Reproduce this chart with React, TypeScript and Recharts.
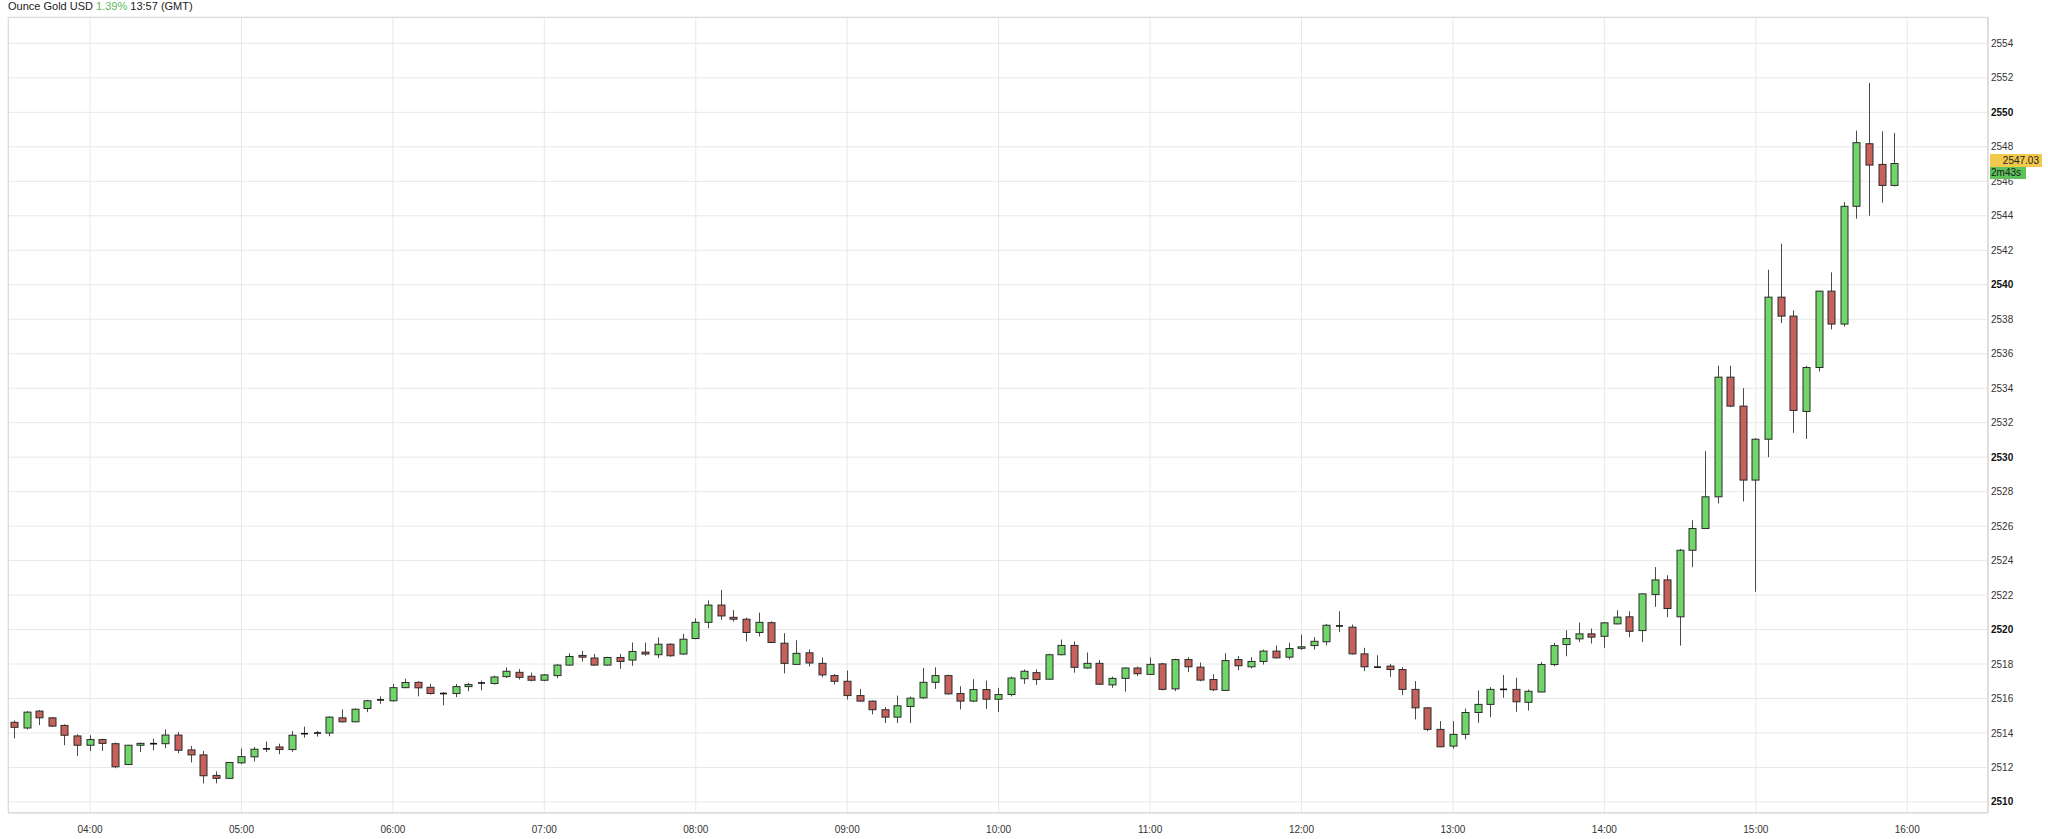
import React from "react";
import { Bar, CartesianGrid, ComposedChart, XAxis, YAxis } from "recharts";

// 5-minute candles, GMT
const TIMES = [
  "03:30", "03:35", "03:40", "03:45", "03:50", "03:55",
  "04:00", "04:05", "04:10", "04:15", "04:20", "04:25", "04:30", "04:35", "04:40", "04:45", "04:50", "04:55",
  "05:00", "05:05", "05:10", "05:15", "05:20", "05:25", "05:30", "05:35", "05:40", "05:45", "05:50", "05:55",
  "06:00", "06:05", "06:10", "06:15", "06:20", "06:25", "06:30", "06:35", "06:40", "06:45", "06:50", "06:55",
  "07:00", "07:05", "07:10", "07:15", "07:20", "07:25", "07:30", "07:35", "07:40", "07:45", "07:50", "07:55",
  "08:00", "08:05", "08:10", "08:15", "08:20", "08:25", "08:30", "08:35", "08:40", "08:45", "08:50", "08:55",
  "09:00", "09:05", "09:10", "09:15", "09:20", "09:25", "09:30", "09:35", "09:40", "09:45", "09:50", "09:55",
  "10:00", "10:05", "10:10", "10:15", "10:20", "10:25", "10:30", "10:35", "10:40", "10:45", "10:50", "10:55",
  "11:00", "11:05", "11:10", "11:15", "11:20", "11:25", "11:30", "11:35", "11:40", "11:45", "11:50", "11:55",
  "12:00", "12:05", "12:10", "12:15", "12:20", "12:25", "12:30", "12:35", "12:40", "12:45", "12:50", "12:55",
  "13:00", "13:05", "13:10", "13:15", "13:20", "13:25", "13:30", "13:35", "13:40", "13:45", "13:50", "13:55",
  "14:00", "14:05", "14:10", "14:15", "14:20", "14:25", "14:30", "14:35", "14:40", "14:45", "14:50", "14:55",
  "15:00", "15:05", "15:10", "15:15", "15:20", "15:25", "15:30", "15:35", "15:40", "15:45", "15:50", "15:55",
];

const OPEN = [
  2514.62, 2514.29, 2515.27, 2514.88, 2514.44, 2513.83,
  2513.29, 2513.62, 2513.38, 2512.17, 2513.29, 2513.36, 2513.38, 2513.88, 2513.02, 2512.73, 2511.54, 2511.37,
  2512.27, 2512.62, 2513.07, 2513.19, 2513.04, 2513.95, 2514.0, 2514.0, 2514.88, 2514.65, 2515.42, 2515.92,
  2515.87, 2516.63, 2516.94, 2516.65, 2516.29, 2516.29, 2516.69, 2516.9, 2516.87, 2517.27, 2517.52, 2517.29,
  2517.06, 2517.33, 2517.94, 2518.5, 2518.35, 2517.94, 2518.38, 2518.23, 2518.69, 2518.54, 2519.15, 2518.58,
  2519.48, 2520.42, 2521.42, 2520.71, 2520.6, 2519.83, 2520.4, 2519.21, 2517.98, 2518.65, 2518.04, 2517.33,
  2517.0, 2516.17, 2515.85, 2515.35, 2514.92, 2515.54, 2516.04, 2516.94, 2517.33, 2516.29, 2515.85, 2516.52,
  2515.96, 2516.23, 2517.15, 2517.5, 2517.12, 2518.54, 2519.08, 2517.77, 2518.04, 2516.79, 2517.17, 2517.77,
  2517.4, 2518.01, 2516.56, 2518.26, 2517.82, 2517.1, 2516.47, 2518.26, 2517.84, 2518.15, 2518.75, 2518.4,
  2518.96, 2519.07, 2519.29, 2520.21, 2520.14, 2518.59, 2517.82, 2517.88, 2517.68, 2516.53, 2515.46, 2514.21,
  2513.24, 2513.92, 2515.19, 2515.66, 2516.53, 2516.53, 2515.78, 2516.38, 2517.97, 2519.13, 2519.46, 2519.75,
  2519.61, 2520.33, 2520.74, 2519.94, 2522.03, 2522.88, 2520.74, 2524.6, 2525.86, 2527.7, 2534.64, 2532.96,
  2528.67, 2531.04, 2539.28, 2538.18, 2532.65, 2535.2, 2539.63, 2537.72, 2544.55, 2548.18, 2546.98, 2545.76,
];

const HIGH = [
  2514.73, 2515.27, 2515.33, 2514.92, 2514.5, 2513.92,
  2513.87, 2513.67, 2513.44, 2513.31, 2513.44, 2513.67, 2514.21, 2514.06, 2513.25, 2512.96, 2511.77, 2512.31,
  2513.1, 2513.19, 2513.5, 2513.38, 2514.12, 2514.37, 2514.12, 2514.98, 2515.37, 2515.42, 2515.92, 2516.12,
  2516.85, 2517.15, 2517.0, 2516.85, 2516.37, 2516.85, 2516.92, 2517.04, 2517.33, 2517.81, 2517.71, 2517.5,
  2517.42, 2518.0, 2518.62, 2518.77, 2518.58, 2518.42, 2518.58, 2519.25, 2519.25, 2519.54, 2519.2, 2519.75,
  2520.65, 2521.69, 2522.29, 2521.13, 2520.69, 2520.98, 2520.48, 2519.79, 2519.38, 2518.85, 2518.38, 2517.42,
  2517.62, 2516.56, 2515.88, 2515.5, 2516.17, 2516.12, 2517.77, 2517.81, 2517.38, 2516.71, 2517.12, 2517.04,
  2516.62, 2517.27, 2517.69, 2517.69, 2518.6, 2519.42, 2519.31, 2518.67, 2518.23, 2517.27, 2517.81, 2517.85,
  2518.38, 2518.07, 2518.3, 2518.4, 2518.09, 2517.41, 2518.63, 2518.46, 2518.4, 2518.84, 2519.07, 2519.23,
  2519.71, 2519.56, 2520.33, 2521.06, 2520.29, 2518.94, 2518.51, 2518.01, 2517.82, 2517.01, 2515.5, 2514.69,
  2514.69, 2515.42, 2516.47, 2516.66, 2517.36, 2517.2, 2516.52, 2518.12, 2519.23, 2519.96, 2520.41, 2520.06,
  2520.43, 2521.12, 2521.06, 2522.1, 2523.62, 2523.15, 2524.68, 2526.34, 2530.35, 2535.3, 2535.3, 2534.0,
  2531.1, 2540.87, 2542.38, 2538.51, 2535.3, 2539.65, 2540.72, 2544.8, 2548.94, 2551.7, 2548.9, 2548.8,
];

const LOW = [
  2513.69, 2514.21, 2514.46, 2514.35, 2513.29, 2512.67,
  2512.96, 2512.96, 2511.96, 2512.15, 2512.9, 2513.0, 2513.12, 2512.83, 2512.29, 2511.08, 2511.08, 2511.35,
  2512.19, 2512.35, 2512.9, 2512.77, 2512.9, 2513.73, 2513.79, 2513.81, 2514.6, 2514.62, 2515.21, 2515.69,
  2515.81, 2516.6, 2516.13, 2516.23, 2515.6, 2516.08, 2516.42, 2516.48, 2516.81, 2517.19, 2517.1, 2517.0,
  2517.0, 2517.19, 2517.9, 2518.15, 2517.9, 2517.9, 2517.73, 2517.9, 2518.48, 2518.35, 2518.42, 2518.54,
  2519.44, 2520.08, 2520.56, 2520.46, 2519.31, 2519.6, 2519.22, 2517.46, 2517.94, 2517.87, 2517.23, 2516.81,
  2515.94, 2515.81, 2515.08, 2514.58, 2514.58, 2514.58, 2515.98, 2516.56, 2516.23, 2515.37, 2515.79, 2515.4,
  2515.21, 2516.12, 2516.85, 2516.79, 2517.1, 2518.5, 2517.5, 2517.73, 2516.79, 2516.62, 2516.4, 2517.31,
  2517.38, 2516.47, 2516.43, 2517.53, 2517.0, 2516.43, 2516.45, 2517.64, 2517.74, 2517.97, 2518.32, 2518.26,
  2518.82, 2518.84, 2519.09, 2519.85, 2518.55, 2517.59, 2517.78, 2517.26, 2516.2, 2514.79, 2514.11, 2513.18,
  2513.09, 2513.63, 2514.59, 2514.92, 2516.04, 2515.23, 2515.3, 2516.36, 2517.87, 2518.45, 2519.28, 2519.19,
  2518.94, 2520.29, 2519.56, 2519.28, 2521.32, 2520.72, 2519.07, 2523.62, 2525.84, 2527.31, 2532.9, 2527.43,
  2522.19, 2530.0, 2537.78, 2531.41, 2531.06, 2534.97, 2537.41, 2537.58, 2543.83, 2544.0, 2544.76, 2545.7,
];

const CLOSE = [
  2514.33, 2515.21, 2514.88, 2514.4, 2513.87, 2513.29,
  2513.62, 2513.4, 2512.04, 2513.29, 2513.4, 2513.38, 2513.88, 2513.0, 2512.73, 2511.52, 2511.37, 2512.29,
  2512.63, 2513.06, 2513.08, 2513.04, 2513.87, 2513.96, 2514.0, 2514.92, 2514.65, 2515.38, 2515.87, 2515.92,
  2516.63, 2516.93, 2516.62, 2516.29, 2516.29, 2516.69, 2516.81, 2516.9, 2517.25, 2517.58, 2517.23, 2517.06,
  2517.37, 2517.94, 2518.44, 2518.4, 2517.94, 2518.38, 2518.15, 2518.73, 2518.58, 2519.15, 2518.48, 2519.44,
  2520.42, 2521.42, 2520.79, 2520.6, 2519.83, 2520.42, 2519.25, 2518.04, 2518.62, 2518.06, 2517.37, 2517.0,
  2516.17, 2515.85, 2515.35, 2514.92, 2515.58, 2516.02, 2516.94, 2517.33, 2516.27, 2515.85, 2516.52, 2515.96,
  2516.23, 2517.19, 2517.58, 2517.1, 2518.54, 2519.08, 2517.81, 2518.04, 2516.83, 2517.17, 2517.77, 2517.44,
  2517.98, 2516.53, 2518.26, 2517.84, 2517.07, 2516.51, 2518.2, 2517.9, 2518.15, 2518.75, 2518.36, 2518.9,
  2519.0, 2519.32, 2520.25, 2520.21, 2518.59, 2517.84, 2517.82, 2517.68, 2516.53, 2515.46, 2514.21, 2513.2,
  2513.92, 2515.19, 2515.66, 2516.53, 2516.53, 2515.81, 2516.42, 2517.97, 2519.07, 2519.48, 2519.75, 2519.56,
  2520.39, 2520.72, 2519.9, 2522.07, 2522.88, 2521.22, 2524.6, 2525.86, 2527.7, 2534.64, 2532.96, 2528.67,
  2531.04, 2539.28, 2538.18, 2532.71, 2535.2, 2539.63, 2537.72, 2544.55, 2548.24, 2546.94, 2545.76, 2547.03,
];

const HOUR_TICKS = [
  "04:00", "05:00", "06:00", "07:00", "08:00", "09:00", "10:00",
  "11:00", "12:00", "13:00", "14:00", "15:00", "16:00",
];

const PRICE_TICKS = [
  2510, 2512, 2514, 2516, 2518, 2520, 2522, 2524, 2526, 2528, 2530, 2532,
  2534, 2536, 2538, 2540, 2542, 2544, 2546, 2548, 2550, 2552, 2554,
];

const FONT = '"Liberation Sans", Arial, Helvetica, sans-serif';
const W = 2048;
const H = 839;
const M = { top: 17, right: 0, bottom: 0, left: 8 };
const Y_AXIS_W = 60;
const X_AXIS_H = 26;
const Y_DOMAIN: [number, number] = [2509.36, 2555.53];
const X_DOMAIN: [number, number] = [207.5, 992];

const toMin = (s: string) => {
  const [h, m] = s.split(":").map(Number);
  return h * 60 + m;
};
const fmtMin = (v: number) =>
  `${String(Math.floor(v / 60)).padStart(2, "0")}:${String(v % 60).padStart(2, "0")}`;

const data = TIMES.map((t, i) => ({
  t: toMin(t),
  range: [LOW[i], HIGH[i]],
  open: OPEN[i],
  high: HIGH[i],
  low: LOW[i],
  close: CLOSE[i],
}));

const UP = "#70d66a";
const DOWN = "#c7615b";

function Candle(props: any) {
  const { x, y, width, height } = props;
  const p = props.payload ?? props;
  const { open, close, high, low } = p;
  if (x == null || y == null) return null;
  const top = height >= 0 ? y : y + height;
  const h = Math.abs(height);
  const ppu = h / (high - low);
  const yOf = (v: number) => top + (high - v) * ppu;
  const cx = Math.round(x + width / 2) + 0.5;
  const bodyTop = yOf(Math.max(open, close));
  const bodyBot = yOf(Math.min(open, close));
  const flat = Math.abs(open - close) < 0.02;
  const bw = 7;
  return (
    <g>
      <line x1={cx} x2={cx} y1={top} y2={top + h} stroke="#4a4a4a" strokeWidth={1} />
      {flat ? (
        <line x1={cx - bw / 2} x2={cx + bw / 2} y1={bodyTop} y2={bodyTop} stroke="#111" strokeWidth={1.6} />
      ) : (
        <rect
          x={cx - bw / 2}
          y={bodyTop}
          width={bw}
          height={Math.max(bodyBot - bodyTop, 1.5)}
          fill={close >= open ? UP : DOWN}
          stroke="#2b2b2b"
          strokeWidth={1}
        />
      )}
    </g>
  );
}

function PriceTick(props: any) {
  const { x, y, payload } = props;
  const v = payload.value as number;
  const bold = v % 10 === 0;
  return (
    <text
      x={x + 3}
      y={y}
      dy={3.5}
      fontFamily={FONT}
      fontSize={10}
      fontWeight={bold ? 700 : 400}
      fill={bold ? "#111" : "#333"}
      textAnchor="start"
    >
      {v}
    </text>
  );
}

function TimeTick(props: any) {
  const { x, y, payload } = props;
  return (
    <text x={x} y={y + 20} fontFamily={FONT} fontSize={10} fill="#333" textAnchor="middle">
      {fmtMin(payload.value)}
    </text>
  );
}

export default function App() {
  const plotLeft = M.left;
  const plotTop = M.top;
  const plotW = W - M.left - M.right - Y_AXIS_W;
  const plotH = H - M.top - M.bottom - X_AXIS_H;
  const last = CLOSE[CLOSE.length - 1];
  const lastY = plotTop + ((Y_DOMAIN[1] - last) / (Y_DOMAIN[1] - Y_DOMAIN[0])) * plotH;

  return (
    <div
      style={{
        position: "absolute",
        left: 0,
        top: 0,
        width: W,
        height: H,
        background: "#fff",
        fontFamily: FONT,
        overflow: "hidden",
      }}
    >
      <div
        style={{
          position: "absolute",
          left: 8,
          top: 0,
          fontSize: 11,
          lineHeight: "13px",
          color: "#222",
          whiteSpace: "nowrap",
        }}
      >
        Ounce Gold USD <span style={{ color: "#5cb85c" }}>1.39%</span> 13:57 (GMT)
      </div>

      <ComposedChart width={W} height={H} data={data} margin={M}>
        <CartesianGrid stroke="#e8e8e8" strokeWidth={1} />
        <XAxis
          type="number"
          dataKey="t"
          domain={X_DOMAIN}
          allowDataOverflow
          ticks={HOUR_TICKS.map(toMin)}
          interval={0}
          height={X_AXIS_H}
          tickLine={false}
          tickSize={0}
          tickMargin={0}
          axisLine={{ stroke: "#d8d8d8" }}
          tick={<TimeTick />}
        />
        <YAxis
          orientation="right"
          domain={Y_DOMAIN}
          allowDataOverflow
          ticks={PRICE_TICKS}
          interval={0}
          width={Y_AXIS_W}
          tickLine={false}
          tickSize={0}
          tickMargin={0}
          axisLine={{ stroke: "#cfcfcf" }}
          tick={<PriceTick />}
        />
        <Bar dataKey="range" barSize={8} shape={<Candle />} isAnimationActive={false} />
      </ComposedChart>

      <div
        style={{
          position: "absolute",
          left: plotLeft,
          top: plotTop,
          width: plotW,
          height: plotH,
          border: "1px solid #dcdcdc",
          boxSizing: "border-box",
          pointerEvents: "none",
        }}
      />

      <div
        style={{
          position: "absolute",
          left: plotLeft + plotW + 2,
          top: lastY - 10,
          width: 52,
          height: 13,
          background: "#f2c94c",
          color: "#222",
          fontSize: 10,
          lineHeight: "13px",
          textAlign: "right",
          paddingRight: 3,
          boxSizing: "border-box",
        }}
      >
        {last.toFixed(2)}
      </div>
      <div
        style={{
          position: "absolute",
          left: plotLeft + plotW + 2,
          top: lastY + 3,
          width: 36,
          height: 12,
          background: "#5ec25a",
          color: "#1a1a1a",
          fontSize: 10,
          lineHeight: "12px",
          paddingLeft: 1,
          boxSizing: "border-box",
        }}
      >
        2m43s
      </div>
    </div>
  );
}
